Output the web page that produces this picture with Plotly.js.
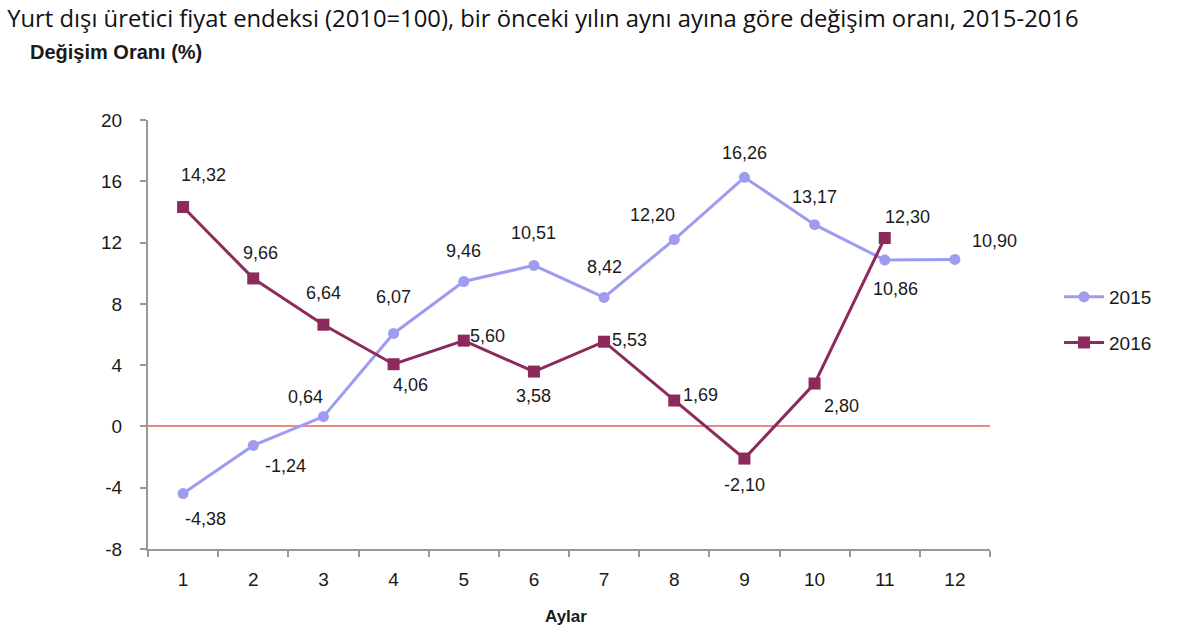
<!DOCTYPE html>
<html>
<head>
<meta charset="utf-8">
<script src="https://cdn.plot.ly/plotly-3.0.1.min.js"></script>
<style>
  body { margin: 0; background: #fff; }
  #myDiv { width: 1200px; height: 630px; }
</style>
</head>
<body>
<div id="myDiv"></div>
<script>
var months = ['1', '2', '3', '4', '5', '6', '7', '8', '9', '10', '11', '12'];
var values2015 = [-4.38, -1.24, 0.64, 6.07, 9.46, 10.51, 8.42, 12.20, 16.26, 13.17, 10.86, 10.90];
var values2016 = [14.32, 9.66, 6.64, 4.06, 5.60, 3.58, 5.53, 1.69, -2.10, 2.80, 12.30];
var yTicks = [-8, -4, 0, 4, 8, 12, 16, 20];
var yTickText = ['-8', '-4', '0', '4', '8', '12', '16', '20'];

// label offsets in pixels (x right, y up)
var off2015 = [[22,-25],[32,-21],[-18,20],[0,36],[0,30],[0,32],[0,30],[-22,25],[0,24],[0,28],[11,-29],[40,18]];
var off2016 = [[20,32],[7,25],[0,32],[17,-21],[24,5],[0,-24],[25,2],[26,6],[0,-26],[27,-22],[23,21]];

function fmt(v) {
  return v.toFixed(2).replace('.', ',');
}

var trace1 = {
  x: months,
  y: values2015,
  mode: 'lines+markers',
  type: 'scatter',
  name: '2015',
  legendgroup: 'a',
  line: { color: '#9d9cf0', width: 3 },
  marker: { symbol: 'circle', size: 11, color: '#9d9cf0' }
};

var trace2 = {
  x: months.slice(0, values2016.length),
  y: values2016,
  mode: 'lines+markers',
  type: 'scatter',
  name: '2016',
  legendgroup: 'b',
  line: { color: '#8c2a5c', width: 3 },
  marker: { symbol: 'square', size: 12, color: '#8c2a5c' }
};

var annotations = [];
function addLabels(vals, offs) {
  for (var i = 0; i < vals.length; i++) {
    annotations.push({
      x: i,
      y: vals[i],
      xref: 'x',
      yref: 'y',
      text: fmt(vals[i]),
      showarrow: false,
      xshift: offs[i][0],
      yshift: offs[i][1],
      font: { family: 'Liberation Sans, Arial', size: 18, color: '#1a1a1a' }
    });
  }
}
addLabels(values2015, off2015);
addLabels(values2016, off2016);

annotations.push({
  xref: 'paper', yref: 'paper', x: 0.497, y: -0.183,
  xanchor: 'center', yanchor: 'bottom',
  text: '<b>Aylar</b>', showarrow: false,
  font: { family: 'Liberation Sans, Arial', size: 17, color: '#1a1a1a' }
});
annotations.push({
  xref: 'paper', yref: 'paper', xanchor: 'left', yanchor: 'middle',
  x: -0.143, y: 1.158,
  text: '<b>Değişim Oranı (%)</b>', showarrow: false,
  font: { family: 'Liberation Sans, Arial', size: 20, color: '#1a1a1a' }
});

var layout = {
  width: 1200,
  height: 630,
  margin: { l: 148, r: 210, t: 120, b: 81 },
  paper_bgcolor: '#fff',
  plot_bgcolor: '#fff',
  separators: ',.',
  title: {
    text: 'Yurt dışı üretici fiyat endeksi (2010=100), bir önceki yılın aynı ayına göre değişim oranı, 2015-2016',
    x: 0.006, xanchor: 'left', y: 0.97, yanchor: 'middle',
    font: { family: 'Open Sans', size: 23.8, color: '#111' }
  },
  xaxis: {
    type: 'category',
    range: [-0.5, 11.5],
    showgrid: false,
    zeroline: false,
    showline: true,
    linecolor: '#999',
    linewidth: 2,
    ticks: 'outside',
    tickson: 'boundaries',
    ticklen: 6,
    tickcolor: '#999',
    tickwidth: 2,
    tickfont: { family: 'Liberation Sans, Arial', size: 19, color: '#1a1a1a' },
    ticklabelstandoff: 12
  },
  yaxis: {
    range: [-8, 20],
    tickvals: yTicks,
    ticktext: yTickText,
    showgrid: false,
    zeroline: true,
    zerolinecolor: '#e58a84',
    zerolinewidth: 2,
    showline: true,
    linecolor: '#999',
    linewidth: 2,
    ticks: 'outside',
    ticklen: 6,
    tickcolor: '#999',
    tickwidth: 2,
    tickfont: { family: 'Liberation Sans, Arial', size: 19, color: '#1a1a1a' },
    ticklabelstandoff: 14
  },
  showlegend: true,
  legend: {
    x: 1.082, xanchor: 'left', y: 0.534, yanchor: 'middle',
    font: { family: 'Liberation Sans, Arial', size: 19, color: '#1a1a1a' },
    tracegroupgap: 18,
    itemwidth: 40
  },
  annotations: annotations
};

Plotly.newPlot('myDiv', [trace1, trace2], layout, { displayModeBar: false });
</script>
</body>
</html>
